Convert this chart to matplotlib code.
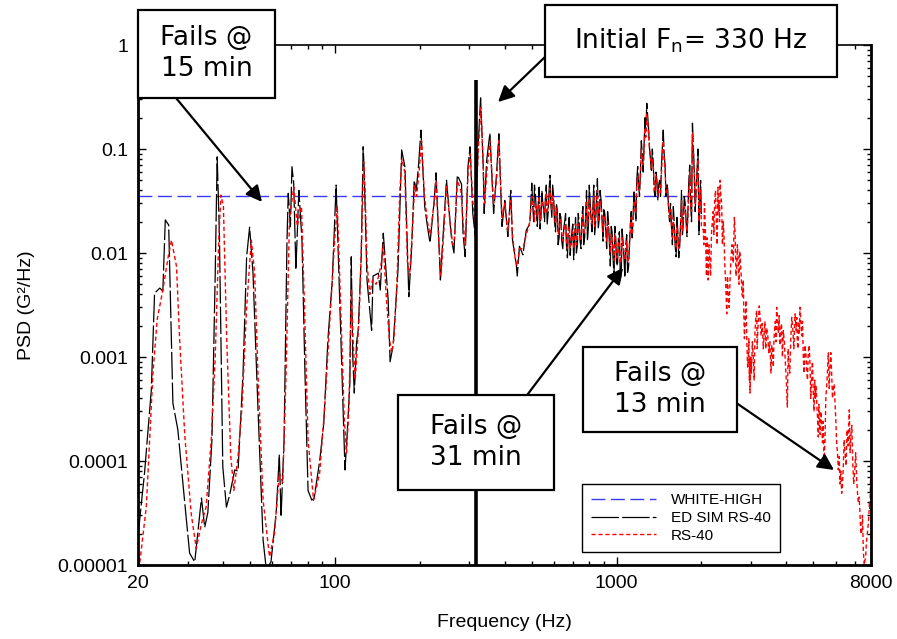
import matplotlib
matplotlib.use("Agg")
import matplotlib.pyplot as plt
from matplotlib.patches import Rectangle
from matplotlib.ticker import FixedLocator, FixedFormatter, LogLocator, NullFormatter

plt.rcParams['font.family'] = ['Liberation Sans', 'DejaVu Sans']

# ---- data (frequency in Hz, PSD in G^2/Hz) ----
WHITE_HIGH = [(20, 0.035), (2000, 0.035)]

ED_SIM_LOW = [
    (20, 1.9e-5), (21.1, 7.7e-5), (22.3, 4.8e-4), (22.9, 4.1e-3), (23.9, 4.6e-3),
    (24.5, 4.3e-3), (25.0, 0.0208), (25.7, 0.0186), (26.6, 3.6e-4), (27.7, 2.0e-4),
    (29.3, 4e-5), (30.5, 1.3e-5), (31.8, 1.07e-5), (33.6, 4.4e-5), (34.5, 2.3e-5),
    (35.4, 3.2e-5), (36.6, 1.6e-4), (37.6, 0.0064), (38.2, 0.084), (38.9, 0.0155),
    (40.0, 8.8e-5), (41.2, 3.6e-5), (42.3, 4.7e-5), (44.1, 8.2e-5), (45.3, 8e-5),
    (47.2, 7e-4), (48.6, 0.0092), (49.8, 0.0177), (51.2, 0.0064), (53.3, 3.3e-4),
    (55.6, 1.74e-5), (57.1, 9e-6), (59.3, 1.07e-5), (61.9, 3.2e-5), (63.5, 1.15e-4),
    (64.4, 2.9e-5), (66.0, 1.6e-4), (67.6, 0.0133), (68.3, 0.0375), (69.5, 0.0179),
    (70.4, 0.0676), (71.4, 0.047), (72.7, 0.0069), (74.5, 0.040), (76.4, 0.0133),
    (78.3, 7e-4), (80.3, 5.2e-5), (82.8, 4.2e-5), (84.4, 4.4e-5), (88.3, 1e-4),
    (91.3, 2.3e-4), (94.5, 0.0015), (97.9, 0.0055), (101, 0.045),
]

ED_SIM_MID = [
    (105.7, 8.8e-4), (108.6, 8.2e-5), (110.4, 1.7e-4), (113, 5.6e-4), (114.3, 0.0092),
    (115.8, 9.5e-4), (117.2, 4.5e-4), (119.4, 0.0014), (121, 0.0018), (124, 0.0092),
    (126, 0.105), (127, 0.063), (130, 0.0055), (135, 0.0018), (136.6, 0.006),
    (142.6, 0.0064), (144.9, 0.0044), (148.5, 0.0155), (154.6, 0.0035), (157, 0.0009),
    (161, 0.0013), (167.5, 0.0069), (172.6, 0.098), (177.3, 0.067), (183, 0.0038),
    (187.4, 0.0116), (191.2, 0.05), (194.5, 0.04), (198.4, 0.073), (202, 0.152),
    (208.4, 0.028), (212.7, 0.0185), (217.6, 0.0125), (225.2, 0.032), (228.5, 0.059),
    (236.9, 0.0055), (240, 0.01), (249, 0.05), (259.7, 0.0133), (264.6, 0.01),
    (272, 0.056), (281.5, 0.046), (285, 0.0155), (290, 0.0092), (296.8, 0.068),
    (302, 0.105), (308.7, 0.024), (314.4, 0.015), (322.8, 0.114), (329, 0.31),
    (335.9, 0.073), (338.8, 0.024), (345.5, 0.076), (355, 0.142), (366, 0.024),
    (375, 0.059), (382, 0.14), (392, 0.018), (401, 0.032), (411, 0.0144),
    (421, 0.04), (427, 0.0133), (440, 0.0079), (444, 0.006), (452, 0.0116),
    (465, 0.0096), (478, 0.0166), (492, 0.019),
]

ED_SIM_HIGH = [
    (500, 0.047), (508, 0.02), (515, 0.036), (523, 0.018), (531, 0.043), (539, 0.022),
    (547, 0.03), (555, 0.02), (563, 0.045), (572, 0.025), (580, 0.056), (589, 0.022),
    (598, 0.034), (607, 0.016), (616, 0.026), (625, 0.014), (634, 0.022), (644, 0.011),
    (654, 0.02), (664, 0.0116), (674, 0.018), (684, 0.0095), (694, 0.016), (704, 0.0086),
    (715, 0.022), (726, 0.012), (737, 0.019), (748, 0.011), (759, 0.028), (770, 0.014),
    (782, 0.04), (794, 0.018), (806, 0.03), (818, 0.016), (830, 0.045), (843, 0.02),
    (855, 0.052), (868, 0.022), (881, 0.032), (895, 0.013), (908, 0.024), (922, 0.011),
    (936, 0.02), (950, 0.0075), (964, 0.016), (979, 0.0062), (993, 0.014), (1008, 0.008),
    (1023, 0.016), (1039, 0.0065), (1054, 0.013), (1070, 0.0058), (1086, 0.015),
    (1103, 0.0074), (1119, 0.019), (1136, 0.014), (1153, 0.04), (1171, 0.02),
    (1188, 0.068), (1206, 0.035), (1224, 0.12), (1243, 0.06), (1261, 0.2), (1280, 0.275),
    (1300, 0.15), (1319, 0.08), (1339, 0.1), (1359, 0.04), (1380, 0.06), (1400, 0.032),
    (1421, 0.05), (1443, 0.07), (1464, 0.152), (1486, 0.07), (1509, 0.047), (1531, 0.025),
    (1554, 0.03), (1578, 0.012), (1601, 0.02), (1626, 0.0092), (1650, 0.016),
    (1675, 0.0116), (1700, 0.04), (1726, 0.02), (1752, 0.03), (1778, 0.0144),
    (1805, 0.05), (1832, 0.03), (1859, 0.177), (1887, 0.06), (1916, 0.04), (1945, 0.1),
    (1974, 0.03), (2000, 0.022),
]

# extra spikes in between, the measured trace is very noisy above 500 Hz
ED_SIM_HIGH_SPIKES = [
    (504, 0.028), (511, 0.045), (519, 0.025), (527, 0.03), (535, 0.017), (543, 0.04),
    (551, 0.026), (559, 0.035), (567, 0.019), (576, 0.04), (584, 0.03), (593, 0.045),
    (602, 0.02), (611, 0.03), (620, 0.012), (629, 0.024), (639, 0.013), (649, 0.017),
    (659, 0.024), (669, 0.009), (679, 0.022), (689, 0.012), (699, 0.019), (709, 0.013),
    (720, 0.01), (731, 0.024), (742, 0.013), (753, 0.022), (764, 0.012), (776, 0.022),
    (788, 0.013), (800, 0.045), (812, 0.02), (824, 0.028), (836, 0.015), (849, 0.035),
    (861, 0.017), (874, 0.04), (888, 0.02), (901, 0.027), (915, 0.016), (929, 0.025),
    (943, 0.012), (957, 0.018), (971, 0.009), (986, 0.018), (1000, 0.0075), (1015, 0.014),
    (1031, 0.0055), (1046, 0.017), (1062, 0.009), (1078, 0.012), (1094, 0.0065),
    (1111, 0.012), (1127, 0.025), (1144, 0.022), (1162, 0.028), (1179, 0.05),
    (1197, 0.045), (1215, 0.06), (1233, 0.09), (1252, 0.11), (1270, 0.15), (1290, 0.2),
    (1309, 0.1), (1329, 0.06), (1349, 0.075), (1369, 0.035), (1390, 0.05), (1410, 0.045),
    (1432, 0.035), (1453, 0.1), (1475, 0.09), (1497, 0.035), (1520, 0.04), (1542, 0.02),
    (1566, 0.018), (1590, 0.028), (1613, 0.012), (1638, 0.022), (1662, 0.009),
    (1688, 0.02), (1713, 0.015), (1739, 0.035), (1765, 0.02), (1791, 0.025),
    (1818, 0.07), (1845, 0.02), (1873, 0.1), (1901, 0.025), (1930, 0.06), (1960, 0.015),
    (1987, 0.05),
]

RS40_LOW = [
    (20.3, 1.06e-5), (21.4, 3.6e-5), (22.6, 7e-4), (23.4, 0.0023), (24.5, 0.0044),
    (25.6, 0.0092), (26.3, 0.0133), (27.4, 0.0074), (28.1, 0.0015), (29.3, 1.8e-4),
    (30.9, 3.1e-5), (32.2, 1.44e-5), (33.6, 2.5e-5), (34.9, 3.6e-5), (36.4, 1.6e-4),
    (37.6, 0.001), (38.7, 0.0133), (39.4, 0.036), (40.2, 0.028), (41.3, 0.0015),
    (42.7, 1.1e-4), (43.8, 5.2e-5), (45.3, 1.1e-4), (46.8, 3.3e-4), (48.6, 0.003),
    (50.5, 0.0133), (51.9, 0.0064), (53.3, 7e-4), (55.6, 4.2e-5), (58.6, 1.2e-5),
    (61, 2e-5), (63.5, 7.7e-5), (65.3, 6.2e-5), (67.1, 7e-4), (69, 0.022),
    (71.5, 0.043), (73.5, 0.018), (76.1, 0.028), (78, 0.003), (80.3, 1.6e-4),
    (84, 4.2e-5), (88.3, 7.7e-5), (92, 3.3e-4), (95.8, 0.0021), (99.8, 0.0133),
    (102, 0.028),
]

RS40_MID = [
    (104, 0.006), (106, 0.0012), (108, 2.5e-4), (110, 1.2e-4), (112, 3e-4),
    (114.5, 0.0045), (116, 0.0015), (118, 6e-4), (120, 0.0012), (122, 0.0025),
    (124, 0.01), (126.5, 0.075), (128, 0.04), (130, 0.008), (133, 0.004),
    (136, 0.0055), (140, 0.005), (143, 0.006), (146, 0.008), (148.5, 0.012),
    (152, 0.004), (156, 0.0015), (159, 0.0011), (162, 0.0015), (166, 0.005),
    (170, 0.04), (173, 0.08), (177, 0.06), (181, 0.008), (184, 0.006), (188, 0.015),
    (192, 0.045), (195, 0.035), (199, 0.06), (203, 0.12), (208, 0.035), (213, 0.02),
    (218, 0.015), (225, 0.03), (229, 0.05), (234, 0.012), (238, 0.006), (242, 0.012),
    (249, 0.045), (256, 0.02), (262, 0.012), (266, 0.014), (272, 0.05), (280, 0.04),
    (285, 0.02), (290, 0.012), (297, 0.06), (302, 0.09), (309, 0.03), (315, 0.02),
    (323, 0.1), (330, 0.25), (336, 0.07), (340, 0.03), (346, 0.06), (355, 0.12),
    (366, 0.03), (375, 0.05), (382, 0.12), (392, 0.022), (401, 0.03), (411, 0.016),
    (421, 0.032), (427, 0.015), (436, 0.009), (444, 0.0075), (452, 0.011),
    (465, 0.011), (478, 0.015), (492, 0.02),
]

RS40_HIGH = [
    (500, 0.035), (508, 0.025), (515, 0.03), (523, 0.022), (531, 0.035), (539, 0.025),
    (547, 0.03), (555, 0.024), (563, 0.038), (572, 0.028), (580, 0.042), (589, 0.026),
    (598, 0.03), (607, 0.019), (616, 0.023), (625, 0.016), (634, 0.02), (644, 0.013),
    (654, 0.018), (664, 0.013), (674, 0.016), (684, 0.011), (694, 0.015), (704, 0.011),
    (715, 0.019), (726, 0.014), (737, 0.017), (748, 0.013), (759, 0.024), (770, 0.017),
    (782, 0.032), (794, 0.021), (806, 0.027), (818, 0.019), (830, 0.036), (843, 0.024),
    (855, 0.04), (868, 0.025), (881, 0.027), (895, 0.016), (908, 0.021), (922, 0.013),
    (936, 0.017), (950, 0.01), (964, 0.014), (979, 0.0085), (993, 0.013), (1008, 0.0095),
    (1023, 0.014), (1039, 0.0085), (1054, 0.012), (1070, 0.0085), (1086, 0.013),
    (1103, 0.009), (1119, 0.017), (1136, 0.015), (1153, 0.032), (1171, 0.024),
    (1188, 0.055), (1206, 0.04), (1224, 0.1), (1243, 0.07), (1261, 0.16), (1280, 0.22),
    (1300, 0.13), (1319, 0.085), (1339, 0.08), (1359, 0.045), (1380, 0.055), (1400, 0.035),
    (1421, 0.045), (1443, 0.06), (1464, 0.12), (1486, 0.065), (1509, 0.042), (1531, 0.027),
    (1554, 0.026), (1578, 0.014), (1601, 0.017), (1626, 0.011), (1650, 0.014),
    (1675, 0.013), (1700, 0.032), (1726, 0.022), (1752, 0.026), (1778, 0.016),
    (1805, 0.04), (1832, 0.03), (1859, 0.14), (1887, 0.055), (1916, 0.045), (1945, 0.08),
    (1974, 0.03), (2000, 0.018),
]

RS40_HIGH_SPIKES = [
    (504, 0.03), (511, 0.02), (519, 0.028), (527, 0.026), (535, 0.021), (543, 0.032),
    (551, 0.026), (559, 0.03), (567, 0.024), (576, 0.034), (584, 0.03), (593, 0.036),
    (602, 0.022), (611, 0.027), (620, 0.015), (629, 0.021), (639, 0.015), (649, 0.016),
    (659, 0.019), (669, 0.011), (679, 0.018), (689, 0.013), (699, 0.016), (709, 0.014),
    (720, 0.012), (731, 0.019), (742, 0.014), (753, 0.019), (764, 0.015), (776, 0.02),
    (788, 0.018), (800, 0.034), (812, 0.022), (824, 0.025), (836, 0.018), (849, 0.03),
    (861, 0.02), (874, 0.032), (888, 0.022), (901, 0.023), (915, 0.017), (929, 0.02),
    (943, 0.014), (957, 0.015), (971, 0.011), (986, 0.015), (1000, 0.009), (1015, 0.012),
    (1031, 0.008), (1046, 0.014), (1062, 0.01), (1078, 0.011), (1094, 0.008),
    (1111, 0.012), (1127, 0.022), (1144, 0.02), (1162, 0.026), (1179, 0.045),
    (1197, 0.042), (1215, 0.055), (1233, 0.08), (1252, 0.1), (1270, 0.13), (1290, 0.18),
    (1309, 0.1), (1329, 0.065), (1349, 0.07), (1369, 0.04), (1390, 0.048), (1410, 0.042),
    (1432, 0.038), (1453, 0.085), (1475, 0.08), (1497, 0.038), (1520, 0.035),
    (1542, 0.022), (1566, 0.018), (1590, 0.022), (1613, 0.013), (1638, 0.018),
    (1662, 0.011), (1688, 0.018), (1713, 0.016), (1739, 0.028), (1765, 0.02),
    (1791, 0.022), (1818, 0.06), (1845, 0.025), (1873, 0.09), (1901, 0.03), (1930, 0.06),
    (1960, 0.02), (1987, 0.04),
]

RS40_TAIL = [
    (2032, 0.0166), (2050, 0.03), (2076, 0.0092), (2095, 0.014), (2114, 0.0055),
    (2140, 0.009), (2172, 0.0155), (2200, 0.025), (2229, 0.032), (2260, 0.02),
    (2290, 0.043), (2310, 0.03), (2329, 0.05), (2360, 0.03), (2391, 0.02),
    (2420, 0.008), (2460, 0.0026), (2490, 0.004), (2527, 0.0054), (2570, 0.012),
    (2618, 0.022), (2640, 0.012), (2667, 0.0067), (2700, 0.009), (2736, 0.0104),
    (2770, 0.006), (2803, 0.0038), (2830, 0.0025), (2857, 0.0021), (2900, 0.0014),
    (2935, 0.001), (2960, 0.0006), (2976, 0.00045), (3010, 0.0007), (3057, 0.001),
    (3100, 0.0018), (3142, 0.0028), (3170, 0.0018), (3210, 0.0031), (3260, 0.0016),
    (3317, 0.0012), (3360, 0.0022), (3409, 0.0019), (3470, 0.0011), (3532, 0.0007),
    (3580, 0.0011), (3620, 0.0015), (3660, 0.0022), (3700, 0.003), (3750, 0.0017),
    (3802, 0.0013), (3850, 0.0021), (3908, 0.0018), (3970, 0.0009), (4038, 0.00033),
    (4090, 0.0008), (4150, 0.0014), (4220, 0.0019), (4298, 0.0026), (4340, 0.0018),
    (4380, 0.0014), (4430, 0.0022), (4477, 0.003), (4540, 0.0016), (4600, 0.001),
    (4660, 0.0013), (4729, 0.00077), (4790, 0.0011), (4859, 0.00086), (4920, 0.0006),
    (4992, 0.00044), (5050, 0.0006), (5105, 0.00053), (5150, 0.0003), (5200, 0.00017),
    (5250, 0.00025), (5304, 0.0003), (5380, 0.00015), (5449, 0.000097), (5530, 0.0004),
    (5644, 0.0011), (5720, 0.0008), (5800, 0.00069), (5880, 0.0005), (5963, 0.00036),
    (6040, 0.00015), (6126, 0.000082), (6210, 0.00006), (6295, 0.000049), (6380, 0.00009),
    (6467, 0.00012), (6580, 0.0002), (6699, 0.00031), (6790, 0.00018), (6889, 0.0001),
    (7000, 0.00008), (7117, 0.000066), (7210, 0.00004), (7312, 0.000031), (7410, 0.00002),
    (7512, 0.000014), (7617, 0.000011), (7700, 0.000016), (7826, 0.000025),
    (7900, 0.00004), (7950, 0.000052), (8000, 0.00006),
]

RS40_TAIL_SPIKES = [
    (2040, 0.012), (2063, 0.02), (2085, 0.006), (2105, 0.01), (2127, 0.012),
    (2156, 0.006), (2186, 0.02), (2215, 0.015), (2245, 0.04), (2275, 0.012),
    (2300, 0.025), (2320, 0.02), (2345, 0.035), (2375, 0.012), (2405, 0.015),
    (2440, 0.005), (2475, 0.006), (2508, 0.003), (2548, 0.009), (2594, 0.008),
    (2629, 0.018), (2653, 0.006), (2684, 0.012), (2718, 0.005), (2753, 0.008),
    (2786, 0.004), (2816, 0.0055), (2843, 0.0015), (2878, 0.0035), (2918, 0.0008),
    (2948, 0.0015), (2968, 0.001), (2993, 0.001), (3033, 0.0014), (3078, 0.0006),
    (3121, 0.0024), (3156, 0.0012), (3190, 0.0024), (3235, 0.0022), (3288, 0.0021),
    (3338, 0.0016), (3385, 0.0012), (3440, 0.0016), (3500, 0.0014), (3556, 0.0013),
    (3600, 0.0008), (3640, 0.0018), (3680, 0.0014), (3725, 0.0022), (3776, 0.0025),
    (3826, 0.0018), (3879, 0.001), (3940, 0.0014), (4004, 0.0006), (4064, 0.0012),
    (4120, 0.0007), (4185, 0.0024), (4259, 0.0012), (4319, 0.0022), (4360, 0.0024),
    (4405, 0.0012), (4453, 0.0017), (4508, 0.0022), (4570, 0.0022), (4630, 0.0007),
    (4695, 0.0011), (4760, 0.0006), (4825, 0.0013), (4890, 0.0004), (4956, 0.0009),
    (5021, 0.0003), (5078, 0.0004), (5128, 0.0004), (5175, 0.00025), (5225, 0.00035),
    (5277, 0.00018), (5342, 0.00025), (5415, 0.00024), (5490, 0.00015), (5587, 0.0006),
    (5682, 0.0005), (5760, 0.0011), (5840, 0.0004), (5921, 0.00055), (6000, 0.00025),
    (6083, 0.00012), (6168, 0.00011), (6252, 0.00008), (6337, 0.00006), (6423, 0.00016),
    (6523, 0.00009), (6640, 0.00014), (6745, 0.00012), (6840, 0.00022), (6944, 0.00006),
    (7058, 0.00012), (7163, 0.00005), (7261, 0.000045), (7361, 0.00002), (7461, 0.00003),
    (7565, 0.00001), (7658, 0.000012), (7763, 0.00002), (7863, 0.00003), (7925, 0.000035),
    (7975, 0.00007),
]

FN_FREQ = 318          # initial natural frequency marker
FN_TOP = 0.46

X_TICKS = [20, 100, 1000, 8000]
X_TICK_LABELS = ["20", "100", "1000", "8000"]
Y_TICKS = [1e-5, 1e-4, 1e-3, 1e-2, 1e-1, 1]
Y_TICK_LABELS = ["0.00001", "0.0001", "0.001", "0.01", "0.1", "1"]


def unzip(points):
    points = sorted(points)
    return [p[0] for p in points], [p[1] for p in points]


W, H = 897, 639
fig = plt.figure(figsize=(W / 100, H / 100), dpi=100)
ax = fig.add_axes([138 / W, 74 / H, 733 / W, 520 / H])

wf, wp = unzip(WHITE_HIGH)
ef, ep = unzip(ED_SIM_LOW + ED_SIM_MID + ED_SIM_HIGH + ED_SIM_HIGH_SPIKES)
rf, rp = unzip(RS40_LOW + RS40_MID + RS40_HIGH + RS40_HIGH_SPIKES
               + RS40_TAIL + RS40_TAIL_SPIKES)

ax.plot(wf, wp, color="#3a3aff", lw=1.0, dashes=(10, 4), label="WHITE-HIGH")
ax.plot(ef, ep, color="black", lw=0.9, dashes=(22, 2.5), label="ED SIM RS-40")
ax.plot(rf, rp, color="red", lw=1.0, dashes=(3, 2), label="RS-40")
ax.plot([FN_FREQ, FN_FREQ], [1e-5, FN_TOP], color="black", lw=2.6, solid_capstyle="butt")

ax.set_xscale("log")
ax.set_yscale("log")
ax.set_xlim(20, 8000)
ax.set_ylim(1e-5, 1)

ax.xaxis.set_major_locator(FixedLocator(X_TICKS))
ax.xaxis.set_major_formatter(FixedFormatter(X_TICK_LABELS))
ax.xaxis.set_minor_locator(LogLocator(base=10, subs=range(2, 10), numticks=20))
ax.xaxis.set_minor_formatter(NullFormatter())
ax.yaxis.set_major_locator(FixedLocator(Y_TICKS))
ax.yaxis.set_major_formatter(FixedFormatter(Y_TICK_LABELS))
ax.yaxis.set_minor_locator(LogLocator(base=10, subs=range(2, 10), numticks=20))
ax.yaxis.set_minor_formatter(NullFormatter())

ax.tick_params(which="both", direction="in", top=True, right=True, width=1)
ax.tick_params(which="major", length=6, labelsize=14, pad=7)
ax.tick_params(which="minor", length=3)

for side in ["left", "bottom", "right"]:
    ax.spines[side].set_linewidth(2)
ax.spines["top"].set_linewidth(1.2)

ax.set_xlabel("Frequency (Hz)", fontsize=14, labelpad=16)
ax.set_ylabel("PSD (G²/Hz)", fontsize=14, labelpad=16)

leg = ax.legend(loc="lower left", bbox_to_anchor=(0.606, 0.025), borderaxespad=0,
                fancybox=False, edgecolor="black", framealpha=1, fontsize=11,
                handlelength=4.2, labelspacing=0.25, borderpad=0.6, handletextpad=1.0)
leg.get_frame().set_linewidth(1.0)

# arrows (tail near a box edge, head at the feature)
arrow_kw = dict(arrowstyle="-|>", color="black", lw=1.6, mutation_scale=24,
                shrinkA=0, shrinkB=0)
ax.annotate("", xy=(55.1, 0.031), xytext=(27.3, 0.309), arrowprops=arrow_kw)
ax.annotate("", xy=(379.6, 0.283), xytext=(557, 0.767), arrowprops=arrow_kw)
ax.annotate("", xy=(1054, 0.0072), xytext=(481, 4.3e-4), arrowprops=arrow_kw)
ax.annotate("", xy=(5912, 8.2e-5), xytext=(2568, 3.86e-4), arrowprops=arrow_kw)


def note_box(x0, y0, w, h, text):
    # box given in figure pixels measured from the top-left corner
    fig.add_artist(Rectangle((x0 / W, 1 - (y0 + h) / H), w / W, h / H,
                             transform=fig.transFigure, facecolor="white",
                             edgecolor="black", lw=1.6, zorder=10))
    fig.text((x0 + w / 2) / W, 1 - (y0 + h / 2) / H, text, ha="center", va="center",
             fontsize=19, family="DejaVu Sans", linespacing=1.25, zorder=11)


note_box(138, 10, 137, 88, "Fails @\n15 min")
note_box(545, 5, 292, 72, r"Initial F$_\mathrm{n}$= 330 Hz")
note_box(398, 395, 156, 95, "Fails @\n31 min")
note_box(583, 347, 154, 85, "Fails @\n13 min")

fig.savefig("out.png", dpi=100)
